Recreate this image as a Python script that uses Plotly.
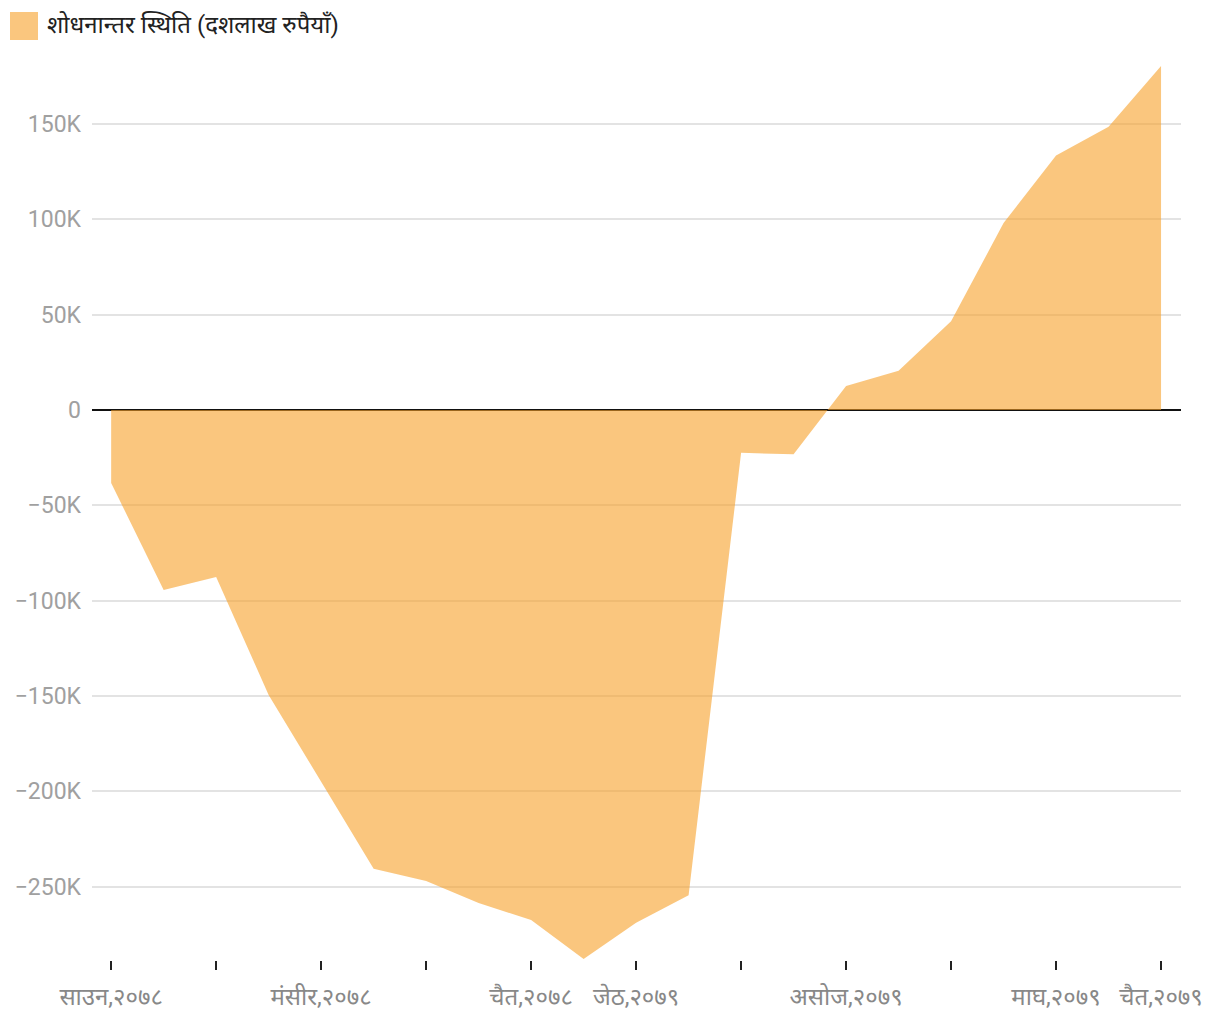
import plotly.graph_objects as go

months = ["साउन,२०७८", "भदौ,२०७८", "असोज,२०७८", "कात्तिक,२०७८", "मंसीर,२०७८", "पुष,२०७८",
          "माघ,२०७८", "फागुन,२०७८", "चैत,२०७८", "वैशाख,२०७९", "जेठ,२०७९", "असार,२०७९",
          "साउन,२०७९", "भदौ,२०७९", "असोज,२०७९", "कात्तिक,२०७९", "मंसीर,२०७९", "पुष,२०७९",
          "माघ,२०७९", "फागुन,२०७९", "चैत,२०७९"]
values = [-38300, -94400, -87600, -149500, -195000, -240700, -247000, -258600, -267500, -288000,
          -269000, -254500, -22500, -23200, 12500, 20500, 46500, 98000, 133500, 148500, 180400]
series_name = "शोधनान्तर स्थिति (दशलाख रुपैयाँ)"
labeled_months = ["साउन,२०७८", "मंसीर,२०७८", "चैत,२०७८", "जेठ,२०७९", "असोज,२०७९", "माघ,२०७९", "चैत,२०७९"]
y_tickvals = [-250000, -200000, -150000, -100000, -50000, 0, 50000, 100000, 150000]
y_ticktext = ["−250K", "−200K", "−150K", "−100K", "−50K", "0", "50K", "100K", "150K"]

x_idx = list(range(len(months)))
tick_idx = [i for i in x_idx if i % 2 == 0]
tick_text = [months[i] if months[i] in labeled_months else "" for i in tick_idx]

fig = go.Figure()
fig.add_trace(go.Scatter(
    x=x_idx, y=values, mode="lines", fill="tozeroy",
    line=dict(width=0, color="rgba(246,160,40,0.6)"),
    fillcolor="rgba(246,160,40,0.6)", name=series_name, showlegend=False,
    hoverinfo="x+y",
))

fig.update_layout(
    width=1220, height=1020,
    margin=dict(l=92, r=39, t=66, b=60),
    paper_bgcolor="white", plot_bgcolor="white",
    font=dict(family="Roboto, 'Noto Sans', sans-serif"),
    xaxis=dict(
        range=[-0.365, 20.38], tickvals=tick_idx, ticktext=tick_text,
        ticks="outside", ticklen=9, tickwidth=2, tickcolor="#222",
        showgrid=False, zeroline=False, showline=False, automargin=False,
        tickfont=dict(size=24, color="#888"), ticklabelstandoff=6,
    ),
    yaxis=dict(
        range=[-288500, 180400], tickvals=y_tickvals, ticktext=y_ticktext,
        showgrid=True, gridcolor="#e3e3e3", gridwidth=1.5,
        zeroline=True, zerolinecolor="#111", zerolinewidth=1.5,
        tickfont=dict(size=23, color="#a0a0a0"), ticks="", ticklabelstandoff=10,
        layer="above traces", automargin=False,
    ),
    shapes=[dict(type="rect", xref="paper", yref="paper",
                 x0=(10 - 92) / 1089, x1=(38 - 92) / 1089,
                 y0=(960 - 40) / 894, y1=(960 - 12) / 894,
                 fillcolor="rgba(246,160,40,0.6)", line=dict(width=0))],
    annotations=[dict(text=series_name, xref="paper", yref="paper",
                      x=(45 - 92) / 1089, y=(960 - 25) / 894,
                      xanchor="left", yanchor="middle", showarrow=False,
                      font=dict(size=24, color="#222"))],
)

fig.write_html("out.html")
